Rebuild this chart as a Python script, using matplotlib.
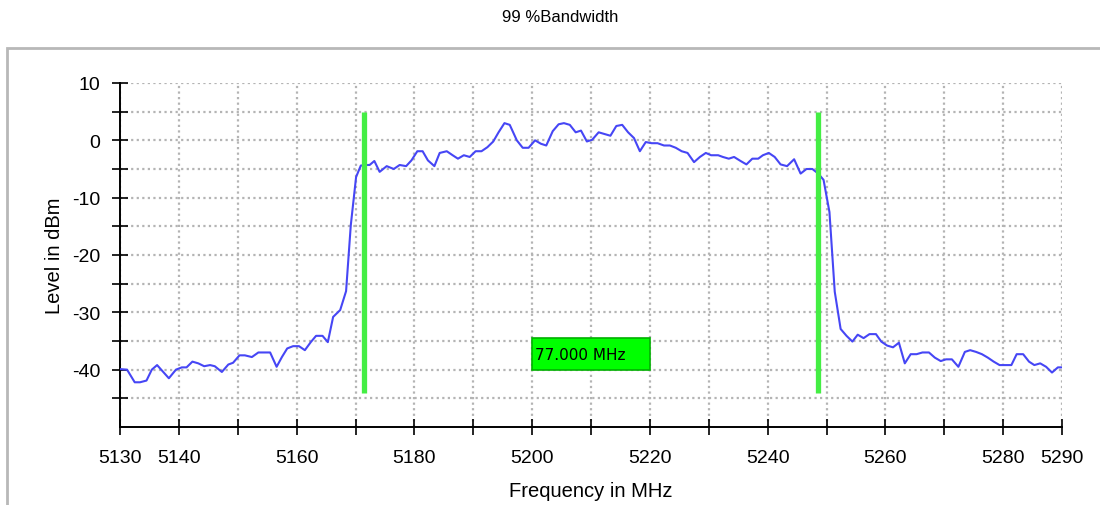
import numpy as np, matplotlib
matplotlib.use("Agg"); import matplotlib.pyplot as plt
from matplotlib.patches import Rectangle

# spectrum trace (MHz, dBm)
freq = [5130.0, 5131.2, 5132.5, 5133.4, 5134.5, 5135.4, 5136.3, 5138.3, 5139.5, 5140.5,
        5141.3, 5142.3, 5143.3, 5144.3, 5145.3, 5146.1, 5147.3, 5148.4, 5149.2, 5150.3,
        5151.2, 5152.4, 5153.5, 5154.5, 5155.5, 5156.6, 5157.5, 5158.4, 5159.4, 5160.4,
        5161.4, 5162.4, 5163.3, 5164.4, 5165.3, 5166.2, 5167.4, 5168.4, 5169.2, 5170.1,
        5170.9, 5171.8, 5172.4, 5173.2, 5174.1, 5175.3, 5176.5, 5177.5, 5178.6, 5179.5,
        5180.5, 5181.4, 5182.3, 5183.4, 5184.3, 5185.5, 5186.5, 5187.4, 5188.4, 5189.4,
        5190.4, 5191.4, 5192.4, 5193.4, 5194.3, 5195.3, 5196.2, 5197.4, 5198.4, 5199.4,
        5200.5, 5201.5, 5202.4, 5203.5, 5204.5, 5205.4, 5206.4, 5207.4, 5208.3, 5209.3,
        5210.2, 5211.3, 5212.3, 5213.3, 5214.3, 5215.3, 5216.3, 5217.3, 5218.3, 5219.3,
        5220.3, 5221.3, 5222.4, 5223.4, 5224.4, 5225.4, 5226.4, 5227.5, 5228.5, 5229.5,
        5230.4, 5231.6, 5232.4, 5233.4, 5234.3, 5235.4, 5236.4, 5237.4, 5238.4, 5239.2,
        5240.2, 5241.2, 5242.2, 5243.3, 5244.5, 5245.6, 5246.6, 5247.6, 5248.6, 5249.5,
        5250.5, 5251.4, 5252.4, 5253.4, 5254.4, 5255.3, 5256.3, 5257.3, 5258.4, 5259.3,
        5260.3, 5261.3, 5262.3, 5263.3, 5264.3, 5265.3, 5266.3, 5267.4, 5268.4, 5269.4,
        5270.3, 5271.3, 5272.4, 5273.5, 5274.4, 5275.4, 5276.4, 5277.4, 5278.4, 5279.4,
        5280.3, 5281.4, 5282.3, 5283.4, 5284.4, 5285.3, 5286.3, 5287.3, 5288.3, 5289.3,
        5290.0]
level = [-39.9, -40.0, -42.2, -42.2, -41.9, -40.0, -39.2, -41.5, -40.0, -39.6,
         -39.6, -38.6, -38.9, -39.4, -39.2, -39.4, -40.4, -39.1, -38.8, -37.5,
         -37.5, -37.8, -37.0, -37.0, -37.0, -39.5, -37.8, -36.3, -35.9, -35.9,
         -36.6, -35.2, -34.1, -34.1, -35.2, -30.8, -29.6, -26.3, -14.8, -6.4,
         -4.4, -4.3, -4.3, -3.6, -5.5, -4.5, -5.0, -4.3, -4.5, -3.5,
         -1.9, -1.9, -3.5, -4.5, -2.2, -1.9, -2.6, -3.2, -2.6, -2.9,
         -1.9, -1.9, -1.2, -0.2, 1.4, 3.0, 2.7, 0.0, -1.3, -1.3,
         0.0, -0.6, -0.9, 1.6, 2.8, 3.0, 2.7, 1.4, 1.7, -0.2,
         0.1, 1.4, 1.1, 0.8, 2.5, 2.7, 1.4, 0.4, -1.9, -0.3,
         -0.5, -0.5, -0.9, -0.9, -1.3, -1.9, -2.2, -3.8, -2.9, -2.2,
         -2.6, -2.6, -2.9, -3.2, -2.9, -3.6, -4.2, -3.2, -3.2, -2.6,
         -2.2, -2.9, -4.2, -4.5, -3.3, -5.8, -5.0, -5.0, -5.8, -6.9,
         -12.5, -26.4, -32.9, -34.1, -35.1, -33.9, -34.5, -33.8, -33.8, -35.1,
         -35.8, -36.1, -35.3, -38.9, -37.3, -37.3, -37.0, -37.0, -37.9, -38.5,
         -38.2, -38.2, -39.5, -36.9, -36.6, -36.9, -37.3, -37.9, -38.6, -39.2,
         -39.2, -39.2, -37.3, -37.3, -38.6, -39.2, -38.9, -39.5, -40.5, -39.6,
         -39.6]

# 99 % occupied bandwidth markers
f_low, f_high = 5171.5, 5248.5
marker_top, marker_bottom = 5, -44
obw_label = "77.000 MHz"

xticks = list(range(5130, 5291, 10))
xlabels = ["5130", "5140", "", "5160", "", "5180", "", "5200", "", "5220", "",
           "5240", "", "5260", "", "5280", "5290"]
yticks = list(range(-45, 11, 5))
ylabels = [str(v) if v % 10 == 0 else "" for v in yticks]

SANS = "Liberation Sans"
GRID = "#b4b4b4"

fig = plt.figure(figsize=(11, 5.06), dpi=100)
fig.patches.append(Rectangle((7/1100, -0.1), 1.2, 457/506 + 0.1, transform=fig.transFigure,
                             fill=False, edgecolor="#b8b8b8", lw=2))
ax = fig.add_axes([120/1100, 78/506, 942/1100, 344/506])

ax.plot(freq, level, color="#4646f5", lw=1.5, zorder=3)
for f in (f_low, f_high):
    ax.plot([f, f], [marker_bottom, marker_top], color="#44ee44", lw=3.8,
            solid_capstyle="butt", zorder=4)

# bandwidth readout box between the markers
mid = (f_low + f_high) / 2
ax.add_patch(Rectangle((mid - 10.1, -40.1), 20.2, 5.6, facecolor="#00ff00",
                       edgecolor="#00b000", lw=1.2, zorder=5))
ax.text(mid - 9.5, -37.3, obw_label, ha="left", va="center", fontsize=11,
        family="DejaVu Sans", zorder=6)

ax.set_xlim(5130, 5290); ax.set_ylim(-50, 10)
ax.set_xticks(xticks); ax.set_xticklabels(xlabels, family=SANS, fontsize=14)
ax.set_yticks(yticks); ax.set_yticklabels(ylabels, family=SANS, fontsize=14)
ax.tick_params(direction="inout", length=12, width=1.2, pad=8)
ax.tick_params(axis="x", pad=10)
for s in ("top", "right"):
    ax.spines[s].set_visible(False)
for s in ("left", "bottom"):
    ax.spines[s].set_linewidth(1.4)
ax.grid(True, color=GRID, ls=(0, (1, 1.5)), lw=1.6)
ax.set_axisbelow(True)
ax.set_ylabel("Level in dBm", family=SANS, fontsize=14.5, labelpad=6)
ax.set_xlabel("Frequency in MHz", family=SANS, fontsize=14.5, labelpad=11)
fig.text(560/1100, 1 - 18/506, "99 %Bandwidth", ha="center", va="center",
         family=SANS, fontsize=12)

fig.savefig("out.png", dpi=100)
